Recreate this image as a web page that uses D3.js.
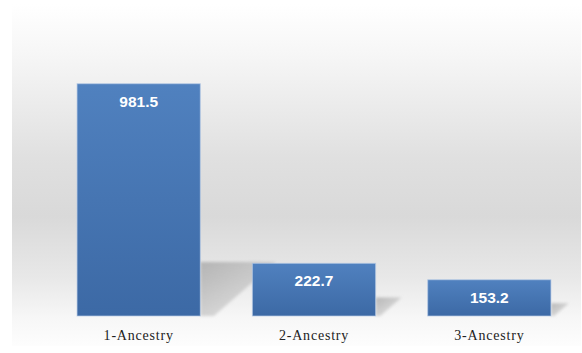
<!DOCTYPE html>
<html>
<head>
<meta charset="utf-8">
<script src="https://cdn.jsdelivr.net/npm/d3@7.9.0/dist/d3.min.js"></script>
<style>
  html, body { margin: 0; padding: 0; background: #fff; }
  svg { display: block; }
</style>
</head>
<body>
<div id="chart"></div>
<script>
const categories = ['1-Ancestry', '2-Ancestry', '3-Ancestry'];
const values = [981.5, 222.7, 153.2];

const width = 582;
const height = 353;

const svg = d3.select('#chart')
    .append('svg')
    .attr('width', width)
    .attr('height', height);

const defs = svg.append('defs');

// background panel gradient
const bg = defs.append('linearGradient')
    .attr('id', 'bg')
    .attr('x1', 0).attr('y1', 0).attr('x2', 0).attr('y2', 1);
[[0, '#ffffff'], [0.15, '#f6f6f6'], [0.45, '#e0e0e0'], [0.62, '#d9d9d9'],
 [0.8, '#e8e8e8'], [0.92, '#f7f7f7'], [1, '#fdfdfd']].forEach(([o, c]) => {
    bg.append('stop').attr('offset', o).attr('stop-color', c);
});

const barGrad = defs.append('linearGradient')
    .attr('id', 'bar')
    .attr('x1', 0).attr('y1', 0).attr('x2', 0).attr('y2', 1);
barGrad.append('stop').attr('offset', 0).attr('stop-color', '#5081bf');
barGrad.append('stop').attr('offset', 1).attr('stop-color', '#3c69a5');

const shadowGrad = defs.append('linearGradient')
    .attr('id', 'shadow')
    .attr('x1', 0).attr('y1', 0).attr('x2', 1).attr('y2', 1);
shadowGrad.append('stop').attr('offset', 0).attr('stop-color', '#a8a8a8').attr('stop-opacity', 0.8);
shadowGrad.append('stop').attr('offset', 1).attr('stop-color', '#b8b8b8').attr('stop-opacity', 0.25);

defs.append('filter')
    .attr('id', 'blur')
    .attr('x', '-20%').attr('y', '-20%').attr('width', '140%').attr('height', '140%')
    .append('feGaussianBlur')
    .attr('stdDeviation', 1.5);

svg.append('rect')
    .attr('x', 12).attr('y', 4)
    .attr('width', 569).attr('height', 342)
    .attr('fill', 'url(#bg)');

const x = d3.scaleBand()
    .domain(categories)
    .range([51, 577])
    .paddingInner(0.297)
    .paddingOuter(0.1486);

const y = d3.scaleLinear()
    .domain([0, 1200])
    .range([316, 32]);

const base = y(0);

// cast shadows
svg.append('g')
    .selectAll('polygon')
    .data(categories.map((c, i) => ({ c, v: values[i] })))
    .join('polygon')
    .attr('filter', 'url(#blur)')
    .attr('fill', 'url(#shadow)')
    .attr('points', (d) => {
        const xr = x(d.c) + x.bandwidth();
        const dep = Math.min((base - y(d.v)) * 0.35, 54);
        return [
            [xr, base - dep],
            [xr + dep * 1.4, base - dep],
            [xr + dep * 0.25, base],
            [xr, base]
        ].map((p) => p.join(',')).join(' ');
    });

const bars = svg.append('g')
    .selectAll('g')
    .data(categories.map((c, i) => ({ c, v: values[i] })))
    .join('g');

bars.append('rect')
    .attr('x', (d) => x(d.c))
    .attr('y', (d) => y(d.v))
    .attr('width', x.bandwidth())
    .attr('height', (d) => base - y(d.v))
    .attr('fill', 'url(#bar)')
    .attr('stroke', '#b7cbe6')
    .attr('stroke-opacity', 0.7)
    .attr('stroke-width', 1);

bars.append('text')
    .attr('x', (d) => x(d.c) + x.bandwidth() / 2)
    .attr('y', (d) => y(d.v) + 23)
    .attr('text-anchor', 'middle')
    .attr('fill', '#ffffff')
    .attr('font-family', 'Liberation Sans, Arial, sans-serif')
    .attr('font-weight', 'bold')
    .attr('font-size', 15.5)
    .text((d) => d.v.toFixed(1));

const xAxis = d3.axisBottom(x).tickSize(0).tickPadding(0);
const ax = svg.append('g')
    .attr('transform', `translate(0, ${base})`)
    .call(xAxis);
ax.select('.domain').remove();
ax.selectAll('text')
    .attr('dy', 0)
    .attr('y', 24)
    .attr('fill', '#222')
    .attr('font-family', 'Liberation Serif, Times New Roman, serif')
    .attr('font-size', 14)
    .attr('letter-spacing', 0.8);
</script>
</body>
</html>
